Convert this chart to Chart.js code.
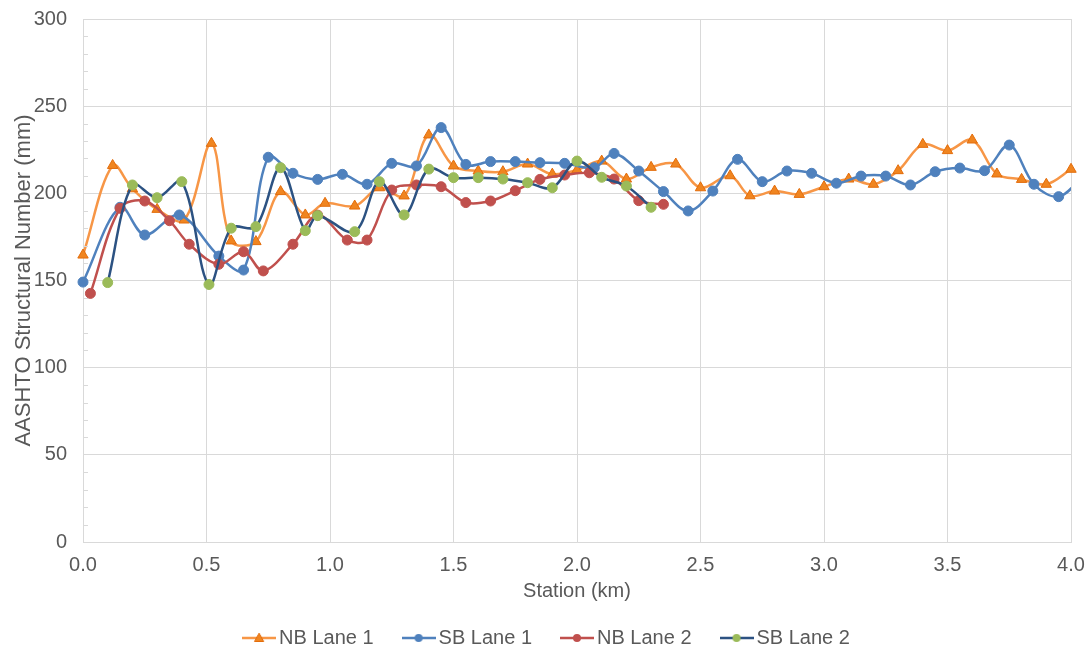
<!DOCTYPE html>
<html>
<head>
<meta charset="utf-8">
<title>AASHTO Structural Number by Station</title>
<script src="https://cdn.jsdelivr.net/npm/chart.js@4.4.1/dist/chart.umd.min.js"></script>
<style>
  html, body { margin: 0; padding: 0; background: #ffffff; }
  #wrap { width: 1087px; height: 652px; position: relative; }
</style>
</head>
<body>
<div id="wrap"><canvas id="chart" width="1087" height="652"></canvas></div>
<script>
// Series names as shown in the legend
const seriesNames = ['NB Lane 1', 'SB Lane 1', 'NB Lane 2', 'SB Lane 2'];

// NB Lane 1: station (km) and structural number (mm)
const nb1Km  = [0.00, 0.12, 0.20, 0.30, 0.41, 0.52, 0.60, 0.70, 0.80, 0.90, 0.98, 1.10, 1.20, 1.30, 1.40, 1.50, 1.60, 1.70, 1.80, 1.90, 2.00,
                2.10, 2.20, 2.30, 2.40, 2.50, 2.62, 2.70, 2.80, 2.90, 3.00, 3.10, 3.20, 3.30, 3.40, 3.50, 3.60, 3.70, 3.80, 3.90, 4.00];
const nb1Val = [164.6, 216.0, 202.6, 190.8, 184.7, 228.7, 172.7, 172.3, 201.0, 187.6, 194.3, 192.7, 203.2, 198.5, 233.5, 215.7, 212.8, 212.4, 216.8, 211.0, 213.4,
                218.5, 208.2, 214.9, 216.8, 203.2, 210.1, 198.6, 201.3, 199.4, 203.8, 208.2, 205.2, 213.0, 228.1, 224.5, 230.6, 211.1, 208.0, 205.2, 213.8];

// SB Lane 1
const sb1Km  = [0.00, 0.15, 0.25, 0.39, 0.55, 0.65, 0.75, 0.85, 0.95, 1.05, 1.15, 1.25, 1.35, 1.45, 1.55, 1.65, 1.75, 1.85, 1.95, 2.07,
                2.15, 2.25, 2.35, 2.45, 2.55, 2.65, 2.75, 2.85, 2.95, 3.05, 3.15, 3.25, 3.35, 3.45, 3.55, 3.65, 3.75, 3.85, 3.95, 4.05];
const sb1Val = [149.1, 192.0, 176.1, 187.6, 164.0, 156.0, 220.7, 211.5, 208.0, 210.9, 205.2, 217.2, 215.7, 237.7, 216.6, 218.2, 218.2, 217.6, 217.2, 214.7,
                222.9, 212.8, 201.0, 189.9, 201.3, 219.5, 206.7, 212.8, 211.5, 205.8, 209.9, 209.9, 204.8, 212.4, 214.5, 213.0, 227.7, 205.2, 198.1, 210.0];

// NB Lane 2
const nb2Km  = [0.03, 0.15, 0.25, 0.35, 0.43, 0.55, 0.65, 0.73, 0.85, 0.95, 1.07, 1.15, 1.25, 1.35, 1.45, 1.55, 1.65, 1.75, 1.85, 1.95,
                2.05, 2.15, 2.25, 2.35];
const nb2Val = [142.6, 191.4, 195.6, 184.3, 170.8, 159.3, 166.5, 155.5, 170.8, 187.5, 173.2, 173.2, 201.9, 204.8, 203.8, 194.7, 195.6, 201.5, 208.0, 210.5,
                211.8, 208.2, 195.8, 193.7];

// SB Lane 2
const sb2Km  = [0.10, 0.20, 0.30, 0.40, 0.51, 0.60, 0.70, 0.80, 0.90, 0.95, 1.10, 1.20, 1.30, 1.40, 1.50, 1.60, 1.70, 1.80, 1.90, 2.00,
                2.10, 2.20, 2.30];
const sb2Val = [148.8, 204.8, 197.5, 206.7, 147.7, 180.0, 180.9, 214.7, 178.6, 187.2, 178.0, 206.7, 187.6, 213.9, 209.0, 209.0, 208.2, 206.1, 203.2, 218.5,
                209.2, 204.2, 192.0];

// Axis tick labels
const xTickLabels = ['0.0', '0.5', '1.0', '1.5', '2.0', '2.5', '3.0', '3.5', '4.0'];
const yTickLabels = ['0', '50', '100', '150', '200', '250', '300'];

const FONT = "'Liberation Sans', Arial, Helvetica, sans-serif";
const TEXT = '#595959';
const GRID = '#D9D9D9';

function toPoints(km, val) {
  return km.map((k, i) => ({ x: k, y: val[i] }));
}

// Small line-with-marker symbols for the legend
function legendSymbol(lineColor, fill, stroke, shape) {
  const c = document.createElement('canvas');
  c.width = 34; c.height = 14;
  const g = c.getContext('2d');
  g.strokeStyle = lineColor;
  g.lineWidth = 2.5;
  g.beginPath(); g.moveTo(0, 7); g.lineTo(34, 7); g.stroke();
  g.fillStyle = fill;
  g.strokeStyle = stroke;
  g.lineWidth = 1;
  if (shape === 'triangle') {
    g.beginPath(); g.moveTo(17, 2.2); g.lineTo(21.6, 10.5); g.lineTo(12.4, 10.5); g.closePath();
    g.fill(); g.stroke();
  } else {
    g.beginPath(); g.arc(17, 7, 4, 0, Math.PI * 2); g.fill();
  }
  return c;
}

const styles = [
  { line: '#F79646', fill: '#F08520', stroke: '#E36C0A', shape: 'triangle', radius: 6 },
  { line: '#4F81BD', fill: '#4F81BD', stroke: '#4F81BD', shape: 'circle',   radius: 5 },
  { line: '#C0504D', fill: '#C0504D', stroke: '#C0504D', shape: 'circle',   radius: 5 },
  { line: '#2C5282', fill: '#9BBB59', stroke: '#9BBB59', shape: 'circle',   radius: 5 }
];
const seriesData = [
  toPoints(nb1Km, nb1Val),
  toPoints(sb1Km, sb1Val),
  toPoints(nb2Km, nb2Val),
  toPoints(sb2Km, sb2Val)
];
const legendIcons = styles.map(s => legendSymbol(s.line, s.fill, s.stroke, s.shape));

const datasets = seriesNames.map((name, i) => ({
  label: name,
  data: seriesData[i],
  borderColor: styles[i].line,
  backgroundColor: styles[i].fill,
  borderWidth: 2.5,
  pointStyle: styles[i].shape,
  pointRadius: styles[i].radius,
  pointHoverRadius: styles[i].radius,
  pointBackgroundColor: styles[i].fill,
  pointBorderColor: styles[i].stroke,
  pointBorderWidth: 1,
  tension: 0.35,
  fill: false,
  order: seriesNames.length - i,
  clip: { left: 10, right: i === 1 ? 0 : 10, top: 10, bottom: 10 }
}));

// Short inside minor tick marks every 10 mm on the value axis
const minorTicks = {
  id: 'minorTicks',
  afterDraw(chart) {
    const y = chart.scales.y;
    const ctx = chart.ctx;
    const x0 = y.right;
    ctx.save();
    ctx.strokeStyle = GRID;
    ctx.lineWidth = 1;
    ctx.beginPath();
    for (let v = 10; v < 300; v += 10) {
      if (v % 50 === 0) continue;
      const py = Math.round(y.getPixelForValue(v)) + 0.5;
      ctx.moveTo(x0, py);
      ctx.lineTo(x0 + 5, py);
    }
    ctx.stroke();
    ctx.restore();
  }
};

new Chart(document.getElementById('chart'), {
  type: 'line',
  data: { datasets },
  plugins: [minorTicks],
  options: {
    responsive: false,
    animation: false,
    devicePixelRatio: 1,
    layout: { padding: { left: 12, right: 0, top: 19, bottom: -6 } },
    plugins: {
      tooltip: { enabled: false },
      title: { display: false },
      legend: {
        display: true,
        position: 'bottom',
        align: 'center',
        labels: {
          usePointStyle: true,
          pointStyleWidth: 20,
          padding: 35,
          color: TEXT,
          font: { family: FONT, size: 20 },
          generateLabels: (chart) => chart.data.datasets.map((ds, i) => ({
            text: ds.label,
            fillStyle: styles[i].fill,
            strokeStyle: styles[i].line,
            lineWidth: 0,
            pointStyle: legendIcons[i],
            hidden: false,
            datasetIndex: i,
            fontColor: TEXT
          }))
        }
      }
    },
    scales: {
      x: {
        type: 'linear',
        min: 0,
        max: 4,
        ticks: {
          stepSize: 0.5,
          padding: 11,
          color: TEXT,
          font: { family: FONT, size: 20 },
          callback: (v) => xTickLabels[Math.round(v / 0.5)]
        },
        grid: { color: GRID, lineWidth: 1, drawTicks: false },
        border: { color: GRID, width: 1 },
        title: {
          display: true,
          text: 'Station (km)',
          color: TEXT,
          font: { family: FONT, size: 20 },
          padding: { top: 0, bottom: -10 }
        },
        afterFit: (s) => {
          s.height = 51;
          s.paddingLeft = 0;
          s.paddingRight = 16;
        }
      },
      y: {
        type: 'linear',
        min: 0,
        max: 300,
        ticks: {
          stepSize: 50,
          padding: 16,
          color: TEXT,
          font: { family: FONT, size: 20 },
          callback: (v) => yTickLabels[Math.round(v / 50)]
        },
        grid: { color: GRID, lineWidth: 1, drawTicks: false },
        border: { color: GRID, width: 1 },
        title: {
          display: true,
          text: 'AASHTO Structural Number (mm)',
          color: TEXT,
          font: { family: FONT, size: 22, lineHeight: 1 },
          padding: { top: 1, bottom: 0 }
        },
        afterFit: (s) => {
          s.width = 71;
          s.paddingTop = 0;
          s.paddingBottom = 0;
        }
      }
    }
  }
});
</script>
</body>
</html>
